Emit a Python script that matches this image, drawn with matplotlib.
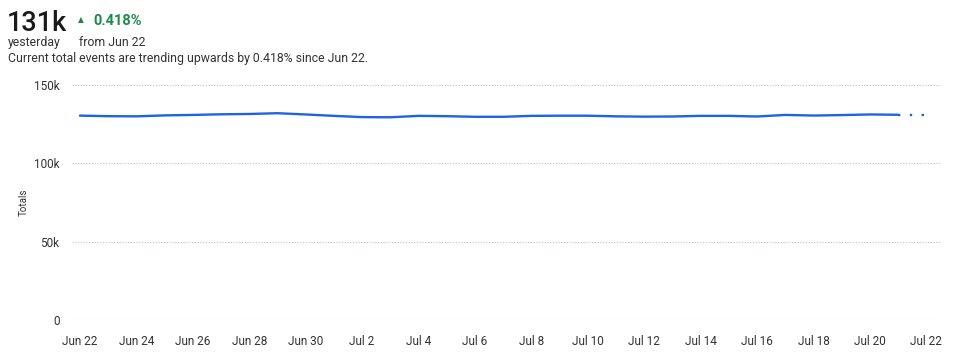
import matplotlib.pyplot as plt
import pandas as pd

# daily totals, Jun 22 .. Jul 22 (last day is incomplete -> dotted)
dates = pd.date_range("2024-06-22", "2024-07-22", freq="D")
totals = [130450, 130100, 130000, 130600, 130900, 131300, 131500, 132000,
          131200, 130300, 129500, 129400, 130300, 130100, 129700, 129700,
          130300, 130400, 130400, 130000, 129800, 129900, 130300, 130300,
          129900, 130900, 130500, 130800, 131200, 131000, 131000]
yticks = [0, 50000, 100000, 150000]
ytick_labels = ["0", "50k", "100k", "150k"]
tick_dates = dates[::2]

plt.rcParams['font.family'] = ['Roboto', 'DejaVu Sans']

fig = plt.figure(figsize=(9.55, 3.58), dpi=100)
ax = fig.add_axes([72 / 955, 1 - 320 / 358, (941 - 72) / 955, (320 - 85) / 358])

blue = "#1f62e6"
ax.plot(dates[:-1], totals[:-1], color=blue, lw=1.7, solid_capstyle="round")
ax.plot(dates[-2:], totals[-2:], color=blue, lw=1.7, linestyle=(0, (1, 4)))

ax.set_ylim(0, 150000)
ax.set_yticks(yticks)
ax.set_yticklabels(ytick_labels)
ax.set_xlim(dates[0] - pd.Timedelta(hours=6.8), dates[-1] + pd.Timedelta(hours=12.5))
ax.set_xticks(tick_dates)
ax.set_xticklabels([d.strftime("%b ") + str(d.day) for d in tick_dates])

for s in ax.spines.values():
    s.set_visible(False)
ax.grid(axis="y", color="#b5c6d6", linestyle=(0, (1, 1.5)), lw=0.8)
ax.set_axisbelow(True)
ax.tick_params(axis="both", length=0, labelsize=8.5, colors="#333333")
ax.tick_params(axis="x", pad=11)
ax.tick_params(axis="y", pad=9)
ax.set_ylabel("Totals", fontsize=7, color="#333333")
ax.yaxis.set_label_coords(-(72 - 29) / 869, 0.5)

# header
fig.text(7 / 955, 1 - 31 / 358, "131k", fontsize=19.5, color="#1a1a1a",
         fontweight="medium", va="baseline")
fig.text(78 / 955, 1 - 22 / 358, "\u25b2", fontsize=5.5, color="#1e8a4a", va="baseline")
fig.text(93 / 955, 1 - 25 / 358, "0.418%", fontsize=10.5, color="#1e8a4a",
         fontweight="bold", va="baseline")
fig.text(8 / 955, 1 - 46 / 358, "yesterday", fontsize=8.8, color="#333333", va="baseline")
fig.text(79 / 955, 1 - 46 / 358, "from Jun 22", fontsize=8.8, color="#333333", va="baseline")
fig.text(8 / 955, 1 - 62 / 358,
         "Current total events are trending upwards by 0.418% since Jun 22.",
         fontsize=8.8, color="#333333", va="baseline")

fig.savefig("out.png", dpi=100)
